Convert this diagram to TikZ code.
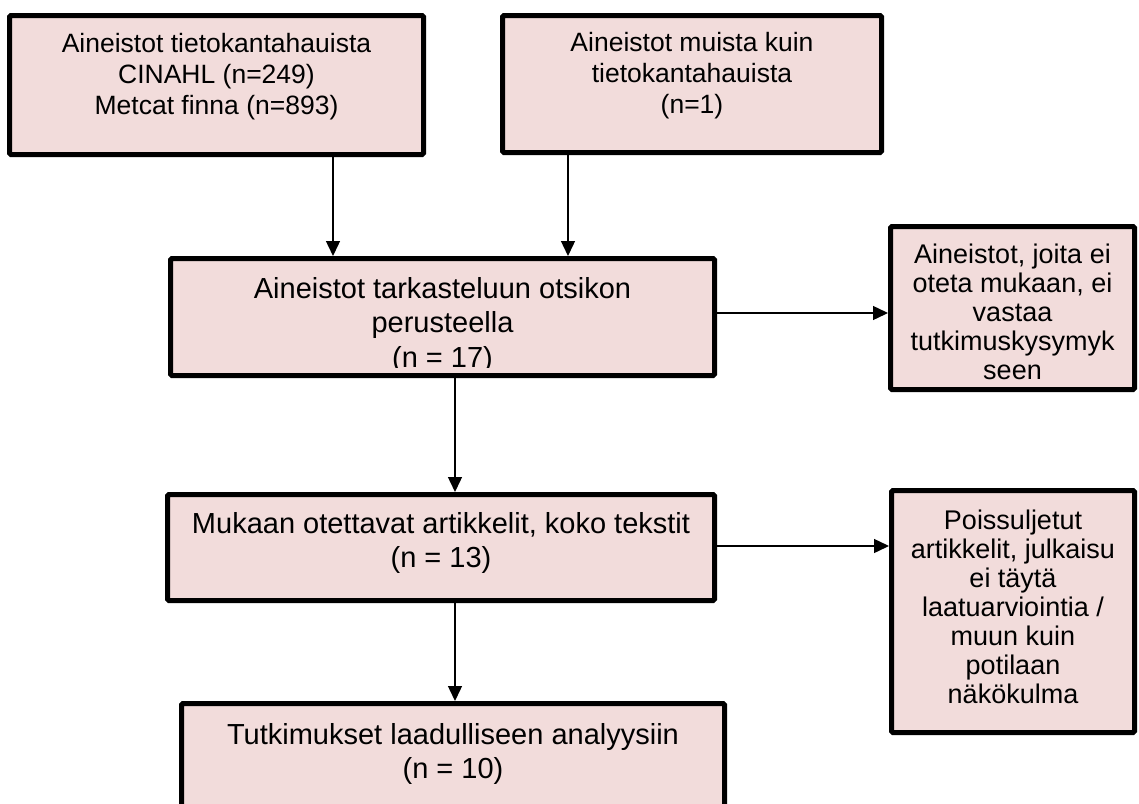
\documentclass[tikz,border=0pt]{standalone}
\usepackage{fontspec}
\setmainfont{Liberation Sans}
\usetikzlibrary{arrows.meta}
\definecolor{boxpink}{HTML}{F2DCDB}
\begin{document}
\begin{tikzpicture}[x=1pt,y=-1pt,
  box/.style={draw=black, fill=boxpink, line width=5pt, rounded corners=1.5pt, inner sep=0pt},
  txt/.style={align=center, inner sep=0pt, text=black},
  arr/.style={-{Triangle[length=15pt,width=14pt]}, line width=1.4pt},
  fsmall/.style={font=\fontsize{26.5}{31}\selectfont},
  fbig/.style={font=\fontsize{29}{34.5}\selectfont},
  fside/.style={font=\fontsize{27}{29}\selectfont}]
\useasboundingbox (0,0) rectangle (1139,803);

% boxes
\node[box, minimum width=414pt, minimum height=139pt] (b1) at (216.5,85) {};
\node[box, minimum width=379pt, minimum height=137pt] (b2) at (692,84) {};
\node[box, minimum width=544pt, minimum height=117pt] (b3) at (442.5,317) {};
\node[box, minimum width=244pt, minimum height=163pt] (b4) at (1012.5,308) {};
\node[box, minimum width=547pt, minimum height=106pt] (bM) at (441,547.5) {};
\node[box, minimum width=243pt, minimum height=242pt] (b5) at (1013,611.5) {};
\node[box, minimum width=543pt, minimum height=134pt] (bT) at (453,770.5) {};

% texts
\node[txt, fsmall] (t1) at (216.5,77) {Aineistot tietokantahauista\\CINAHL (n=249)\\Metcat finna (n=893)};
\node[txt, fsmall] (t2) at (692,76) {Aineistot muista kuin\\tietokantahauista\\(n=1)};
\begin{scope}
  \clip (170,258) rectangle (715,367);
  \node[txt, fbig] (t3) at (442.5,325) {Aineistot tarkasteluun otsikon\\perusteella\\(n = 17)};
\end{scope}
\node[txt, fside] (t4) at (1012.5,312) {Aineistot, joita ei\\oteta mukaan, ei\\vastaa\\tutkimuskysymyk\\seen};
\node[txt, fbig] (tM) at (441,543) {Mukaan otettavat artikkelit, koko tekstit\\(n = 13)};
\node[txt, fside] (t5) at (1013,606.5) {Poissuljetut\\artikkelit, julkaisu\\ei täytä\\laatuarviointia /\\muun kuin\\potilaan\\näkökulma};
\node[txt, fbig] (tT) at (453,754) {Tutkimukset laadulliseen analyysiin\\(n = 10)};

% connector guides
\coordinate (xa) at (333,0);
\coordinate (xb) at (568,0);
\coordinate (xc) at (455,0);
\coordinate (ya) at (0,313);
\coordinate (yb) at (0,546);

\draw[arr] (b1.south -| xa) -- (b3.north -| xa);
\draw[arr] (b2.south -| xb) -- (b3.north -| xb);
\draw[arr] (b3.east |- ya) -- (b4.west |- ya);
\draw[arr] (b3.south -| xc) -- (bM.north -| xc);
\draw[arr] (bM.east |- yb) -- (b5.west |- yb);
\draw[arr] (bM.south -| xc) -- (bT.north -| xc);
\end{tikzpicture}
\end{document}
